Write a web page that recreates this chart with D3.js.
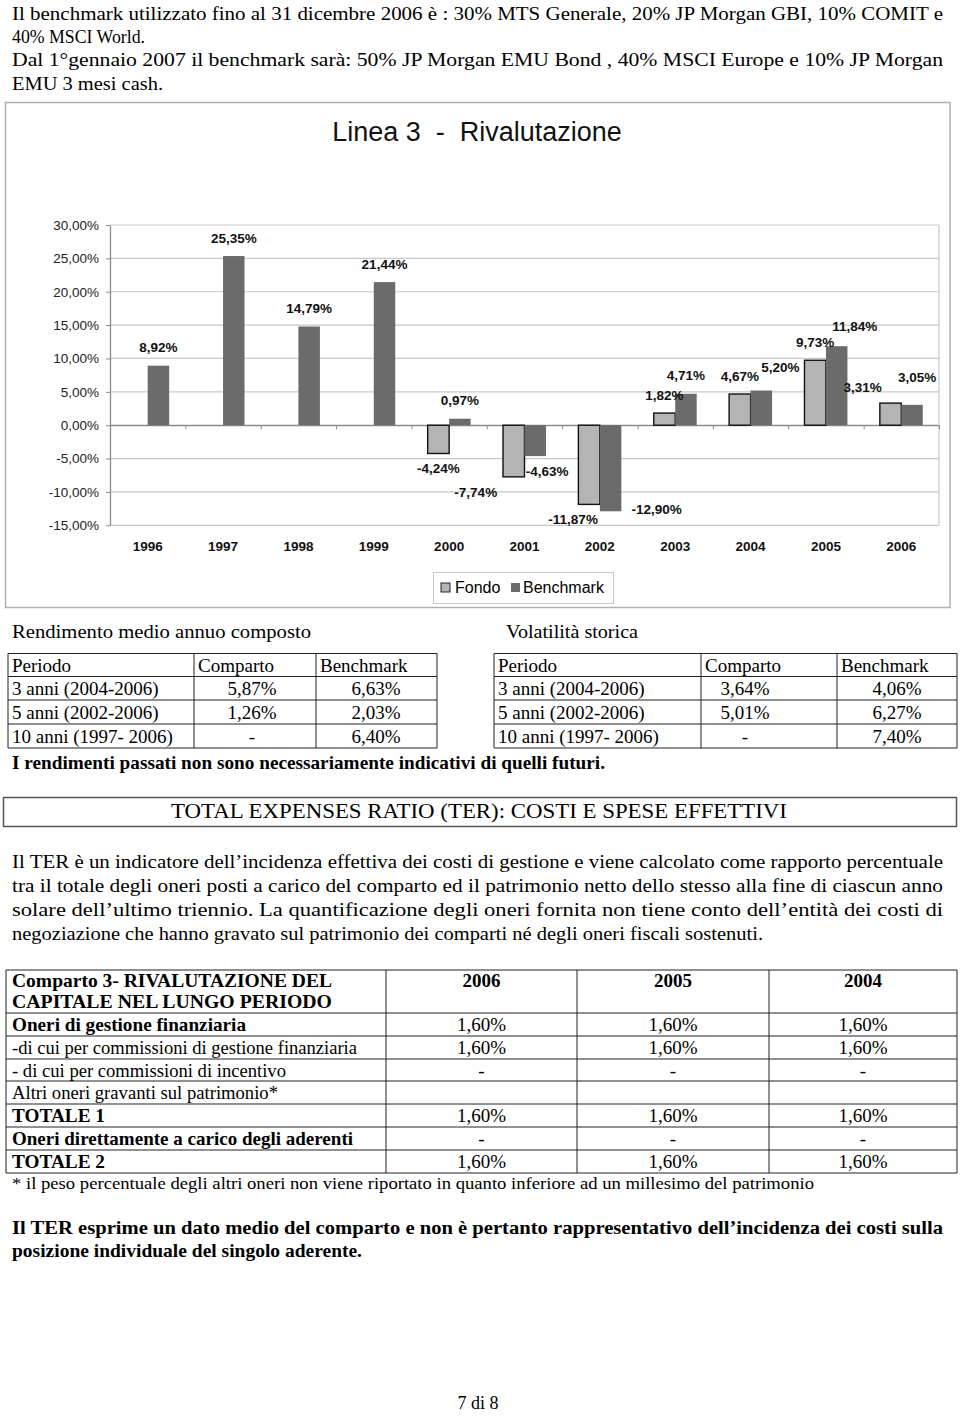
<!DOCTYPE html>
<html>
<head>
<meta charset="utf-8">
<script src="https://cdn.jsdelivr.net/npm/d3@7"></script>
<style>
  body { margin: 0; background: #fff; }
  svg { display: block; }
  .sans { font-family: "Liberation Sans", Arial, sans-serif; }
  .serif { font-family: "Liberation Serif", "Times New Roman", serif; }
</style>
</head>
<body>
<script>
// --- chart data (Linea 3 - Rivalutazione) ---
const years = ["1996", "1997", "1998", "1999", "2000", "2001", "2002", "2003", "2004", "2005", "2006"];
const fondo = [null, null, null, null, -4.24, -7.74, -11.87, 1.82, 4.67, 9.73, 3.31];
const benchmark = [8.92, 25.35, 14.79, 21.44, 0.97, -4.63, -12.90, 4.71, 5.20, 11.84, 3.05];
const yTicks = [30, 25, 20, 15, 10, 5, 0, -5, -10, -15];
const seriesNames = ["Fondo", "Benchmark"];

// --- tables ---
const tableHead = ["Periodo", "Comparto", "Benchmark"];
const periodi = ["3 anni (2004-2006)", "5 anni (2002-2006)", "10 anni (1997- 2006)"];
const rendComparto = ["5,87%", "1,26%", "-"];
const rendBenchmark = ["6,63%", "2,03%", "6,40%"];
const volComparto = ["3,64%", "5,01%", "-"];
const volBenchmark = ["4,06%", "6,27%", "7,40%"];

const terYears = ["2006", "2005", "2004"];
const terVoci = [
  "Oneri di gestione finanziaria",
  "-di cui per commissioni di gestione finanziaria",
  "- di cui per commissioni di incentivo",
  "Altri oneri gravanti sul patrimonio*",
  "TOTALE 1",
  "Oneri direttamente a carico degli aderenti",
  "TOTALE 2"
];
const terValori = [
  ["1,60%", "1,60%", "1,60%"],
  ["1,60%", "1,60%", "1,60%"],
  ["-", "-", "-"],
  ["", "", ""],
  ["1,60%", "1,60%", "1,60%"],
  ["-", "-", "-"],
  ["1,60%", "1,60%", "1,60%"]
];

const svg = d3.select("body").append("svg")
  .attr("width", 960)
  .attr("height", 1416);

// helper for one line of text, vertically centred on yc
function txt(parent, s, x, yc, o) {
  o = o || {};
  const t = parent.append("text")
    .attr("class", o.cls || "serif")
    .attr("x", x)
    .attr("y", yc)
    .attr("dy", "0.35em")
    .attr("font-size", o.size || 19)
    .attr("font-weight", o.bold ? "bold" : "normal")
    .attr("text-anchor", o.anchor || "start")
    .attr("fill", o.fill || "#000")
    .style("white-space", "pre")
    .text(s);
  if (o.width) {
    t.attr("textLength", o.width)
      .attr("lengthAdjust", o.adjust || "spacingAndGlyphs");
  }
  return t;
}

// ---------- header text ----------
const header = [
  ["Il benchmark utilizzato fino al 31 dicembre 2006 è : 30% MTS Generale, 20% JP Morgan GBI, 10% COMIT e", 931],
  ["40% MSCI World.", 133],
  ["Dal 1°gennaio 2007 il benchmark sarà: 50% JP Morgan EMU Bond , 40% MSCI Europe e 10% JP Morgan", 931],
  ["EMU 3 mesi cash.", 151]
];
header.forEach((d, i) => txt(svg, d[0], 12, 13 + i * 23.3, {width: d[1]}));

// ---------- chart ----------
const chart = svg.append("g");
chart.append("rect")
  .attr("x", 5.5).attr("y", 102.5)
  .attr("width", 944.5).attr("height", 505)
  .attr("fill", "#fff")
  .attr("stroke", "#b0b0b0")
  .attr("stroke-width", 1.5);

txt(chart, "Linea 3  -  Rivalutazione", 477, 132, {cls: "sans", size: 27, anchor: "middle", fill: "#111"});

const plot = {left: 110, right: 939, top: 225, bottom: 525.3};

const y = d3.scaleLinear().domain([-15, 30]).range([plot.bottom, plot.top]);
const x = d3.scaleBand().domain(years)
  .range([plot.left, plot.right])
  .paddingInner(0.43)
  .paddingOuter(0.215);
const xs = d3.scaleBand().domain(seriesNames).range([0, x.bandwidth()]);
const xEdge = d3.scaleLinear().domain([0, years.length]).range([plot.left, plot.right]);

const it = d3.formatLocale({decimal: ",", thousands: ".", grouping: [3], currency: ["", "€"], minus: "-"});
const pct = v => it.format(".2f")(v) + "%";

// gridlines
chart.append("g")
  .selectAll("line")
  .data(yTicks)
  .join("line")
  .attr("x1", plot.left).attr("x2", plot.right)
  .attr("y1", d => y(d)).attr("y2", d => y(d))
  .attr("stroke", "#c8c8c8")
  .attr("stroke-width", 1.2);

chart.append("line")
  .attr("x1", plot.right).attr("x2", plot.right)
  .attr("y1", plot.top).attr("y2", plot.bottom)
  .attr("stroke", "#c8c8c8")
  .attr("stroke-width", 1.2);

// y axis
const yAxis = chart.append("g")
  .attr("transform", `translate(${plot.left},0)`)
  .call(d3.axisLeft(y).tickValues(yTicks).tickSize(4).tickSizeOuter(0).tickPadding(7).tickFormat(pct));
yAxis.select(".domain").attr("stroke", "#8c8c8c").attr("stroke-width", 1.3);
yAxis.selectAll(".tick line").attr("stroke", "#8c8c8c");
yAxis.selectAll("text")
  .attr("class", "sans")
  .attr("font-size", 13.5)
  .attr("fill", "#222");

// zero line with category ticks
const zeroAxis = chart.append("g")
  .attr("transform", `translate(0,${y(0)})`)
  .call(d3.axisBottom(xEdge).tickValues(d3.range(0, years.length + 1)).tickSize(4).tickSizeOuter(0).tickFormat(""));
zeroAxis.select(".domain").attr("stroke", "#8c8c8c").attr("stroke-width", 1.3);
zeroAxis.selectAll(".tick line").attr("stroke", "#8c8c8c");

// category labels
const xAxis = chart.append("g")
  .attr("transform", `translate(0,${plot.bottom})`)
  .call(d3.axisBottom(x).tickSize(0));
xAxis.select(".domain").remove();
xAxis.selectAll("text")
  .attr("class", "sans")
  .attr("font-size", 13.5)
  .attr("font-weight", "bold")
  .attr("fill", "#111")
  .attr("y", 21)
  .attr("dy", "0.35em");

// bars
const series = [
  {key: "Fondo", values: fondo, fill: "#b4b4b4", stroke: "#111"},
  {key: "Benchmark", values: benchmark, fill: "#6b6b6b", stroke: "none"}
];

const barData = series.flatMap(s => years.map((yr, i) => ({
  key: s.key, year: yr, v: s.values[i], fill: s.fill, stroke: s.stroke
}))).filter(d => d.v !== null);

chart.append("g")
  .selectAll("rect")
  .data(barData)
  .join("rect")
  .attr("x", d => x(d.year) + xs(d.key))
  .attr("width", xs.bandwidth())
  .attr("y", d => y(Math.max(d.v, 0)))
  .attr("height", d => Math.abs(y(d.v) - y(0)))
  .attr("fill", d => d.fill)
  .attr("stroke", d => d.stroke)
  .attr("stroke-width", 1.4);

// manual label nudges, as in the original chart
const labelNudge = {
  "Benchmark-2001": [12, 0],
  "Benchmark-2002": [46, -17],
  "Benchmark-2004": [19, -5],
  "Benchmark-2005": [18, -2],
  "Benchmark-2006": [5, -10],
  "Fondo-2001": [-38, 0],
  "Fondo-2002": [-16, 0],
  "Fondo-2006": [-28, 2]
};

chart.append("g")
  .selectAll("text")
  .data(barData)
  .join("text")
  .attr("class", "sans")
  .attr("font-size", 13.5)
  .attr("font-weight", "bold")
  .attr("fill", "#111")
  .attr("text-anchor", "middle")
  .attr("dy", "0.35em")
  .attr("x", d => {
    const n = labelNudge[d.key + "-" + d.year] || [0, 0];
    return x(d.year) + xs(d.key) + xs.bandwidth() / 2 + n[0];
  })
  .attr("y", d => {
    const n = labelNudge[d.key + "-" + d.year] || [0, 0];
    return (d.v >= 0 ? y(d.v) - 18 : y(d.v) + 15) + n[1];
  })
  .text(d => pct(d.v));

// legend
const legend = chart.append("g");
legend.append("rect")
  .attr("x", 433.5).attr("y", 572.5)
  .attr("width", 180).attr("height", 31)
  .attr("fill", "#fff")
  .attr("stroke", "#c8c8c8");
const legItems = [
  {name: seriesNames[0], sx: 441, tx: 455},
  {name: seriesNames[1], sx: 511, tx: 523}
];
legItems.forEach((d, i) => {
  legend.append("rect")
    .attr("x", d.sx).attr("y", 583)
    .attr("width", 9).attr("height", 9)
    .attr("fill", series[i].fill)
    .attr("stroke", i === 0 ? "#222" : "none");
  txt(legend, d.name, d.tx, 587.5, {cls: "sans", size: 16});
});

// ---------- rendimento / volatilità tables ----------
txt(svg, "Rendimento medio annuo composto", 12, 631, {width: 299});
txt(svg, "Volatilità storica", 506, 631, {width: 132});

const rowY = [653.5, 676.5, 700, 724, 748];

function smallTable(cols, comparto, bench, valX) {
  const g = svg.append("g");
  rowY.forEach(yy => g.append("line")
    .attr("x1", cols[0]).attr("x2", cols[3])
    .attr("y1", yy).attr("y2", yy)
    .attr("stroke", "#222"));
  cols.forEach(xx => g.append("line")
    .attr("x1", xx).attr("x2", xx)
    .attr("y1", rowY[0]).attr("y2", rowY[4])
    .attr("stroke", "#222"));
  tableHead.forEach((h, i) => txt(g, h, cols[i] + 4, (rowY[0] + rowY[1]) / 2));
  periodi.forEach((p, i) => {
    const yc = (rowY[i + 1] + rowY[i + 2]) / 2;
    txt(g, p, cols[0] + 4, yc);
    txt(g, comparto[i], valX[0], yc, {anchor: "middle"});
    txt(g, bench[i], valX[1], yc, {anchor: "middle"});
  });
}
smallTable([8, 194, 316, 437], rendComparto, rendBenchmark, [252, 376]);
smallTable([494, 701, 837, 957], volComparto, volBenchmark, [745, 897]);

txt(svg, "I rendimenti passati non sono necessariamente indicativi di quelli futuri.", 12, 762, {bold: true, width: 593});

// ---------- TER ----------
svg.append("rect")
  .attr("x", 3.5).attr("y", 797.5)
  .attr("width", 953).attr("height", 29)
  .attr("fill", "none")
  .attr("stroke", "#555")
  .attr("stroke-width", 1.5);
txt(svg, "TOTAL EXPENSES RATIO (TER): COSTI E SPESE EFFETTIVI", 479, 811, {anchor: "middle", width: 616, size: 20});

const terPara = [
  ["Il TER è un indicatore dell’incidenza effettiva dei costi di gestione e viene calcolato come rapporto percentuale", 931],
  ["tra il totale degli oneri posti a carico del comparto ed il patrimonio netto dello stesso alla fine di ciascun anno", 931],
  ["solare dell’ultimo triennio. La quantificazione degli oneri fornita non tiene conto dell’entità dei costi di", 931],
  ["negoziazione che hanno gravato sul patrimonio dei comparti né degli oneri fiscali sostenuti.", 751]
];
terPara.forEach((d, i) => txt(svg, d[0], 12, 861 + i * 24.2, {width: d[1]}));

// cost table
const cCols = [6, 386, 577, 769, 957];
const cRows = [970, 1013, 1036, 1059, 1081, 1104, 1127, 1150, 1173];
const boldVoci = [true, false, false, false, true, true, true];
const vociWidth = [234, 345, 274, 266, 93, 341, 93];

const ct = svg.append("g");
cRows.forEach(yy => ct.append("line")
  .attr("x1", cCols[0]).attr("x2", cCols[4])
  .attr("y1", yy).attr("y2", yy)
  .attr("stroke", "#222"));
cCols.forEach(xx => ct.append("line")
  .attr("x1", xx).attr("x2", xx)
  .attr("y1", cRows[0]).attr("y2", cRows[cRows.length - 1])
  .attr("stroke", "#222"));

txt(ct, "Comparto 3- RIVALUTAZIONE DEL", 12, 980.5, {bold: true, width: 320});
txt(ct, "CAPITALE NEL LUNGO PERIODO", 12, 1001.5, {bold: true, width: 320});
terYears.forEach((yr, j) => txt(ct, yr, (cCols[j + 1] + cCols[j + 2]) / 2, 980.5, {bold: true, anchor: "middle"}));

terVoci.forEach((v, i) => {
  const yc = (cRows[i + 1] + cRows[i + 2]) / 2;
  txt(ct, v, 12, yc, {bold: boldVoci[i], width: vociWidth[i], size: i === 3 ? 18 : 19});
  terValori[i].forEach((val, j) => {
    if (val) txt(ct, val, (cCols[j + 1] + cCols[j + 2]) / 2, yc, {anchor: "middle"});
  });
});

txt(svg, "* il peso percentuale degli altri oneri non viene riportato in quanto inferiore ad un millesimo del patrimonio", 12, 1183, {size: 17, width: 802});

txt(svg, "Il TER esprime un dato medio del comparto e non è pertanto rappresentativo dell’incidenza dei costi sulla", 12, 1227, {bold: true, width: 931});
txt(svg, "posizione individuale del singolo aderente.", 12, 1250, {bold: true, width: 350});

txt(svg, "7 di 8", 478, 1403, {anchor: "middle", size: 18});
</script>
</body>
</html>
